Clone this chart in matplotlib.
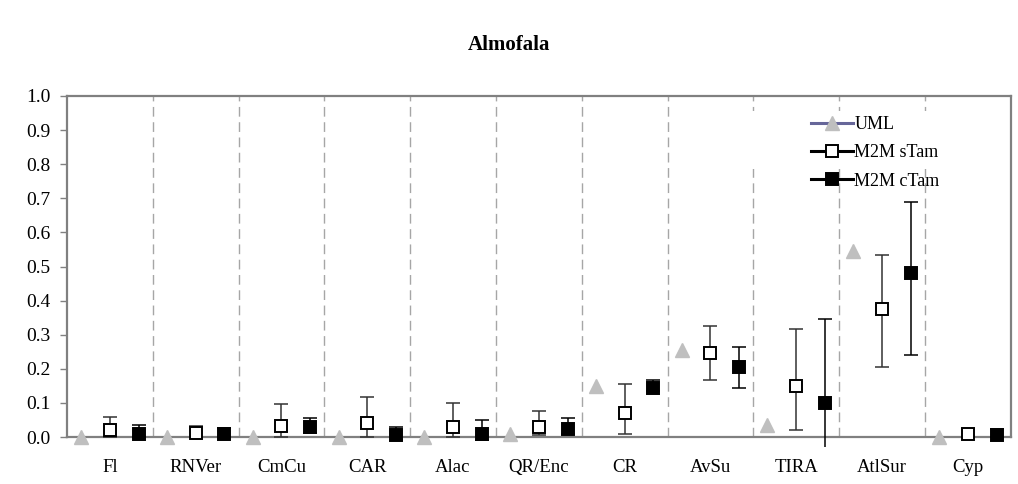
import matplotlib
matplotlib.use("Agg")
import matplotlib.pyplot as plt
import numpy as np
from matplotlib.patches import Rectangle
from matplotlib.transforms import Bbox, TransformedBbox

categories = ["Fl", "RNVer", "CmCu", "CAR", "Alac", "QR/Enc", "CR", "AvSu", "TIRA", "AtlSur", "Cyp"]

uml = [0.0, 0.0, 0.0, 0.0, 0.0, 0.01, 0.15, 0.255, 0.035, 0.545, 0.0]

stam = [0.02, 0.013, 0.033, 0.04, 0.03, 0.03, 0.07, 0.245, 0.15, 0.375, 0.01]
stam_hi = [0.058, 0.033, 0.098, 0.117, 0.10, 0.077, 0.155, 0.325, 0.318, 0.535, 0.025]
stam_lo = [0.0, 0.0, 0.0, 0.0, 0.0, 0.005, 0.01, 0.168, 0.02, 0.205, 0.0]

ctam = [0.01, 0.01, 0.03, 0.005, 0.01, 0.025, 0.143, 0.205, 0.10, 0.48, 0.005]
ctam_hi = [0.035, 0.028, 0.055, 0.03, 0.05, 0.055, 0.168, 0.265, 0.345, 0.69, 0.025]
ctam_lo = [0.0, 0.0, 0.012, -0.01, -0.01, 0.01, 0.135, 0.145, -0.145, 0.24, 0.0]

yticks = [0.0, 0.1, 0.2, 0.3, 0.4, 0.5, 0.6, 0.7, 0.8, 0.9, 1.0]

plt.rcParams['font.family'] = ['Liberation Serif', 'DejaVu Serif']

fig = plt.figure(figsize=(10.18, 4.84), dpi=100)
ax = fig.add_axes([0.0658, 0.097, 0.927, 0.7047])

x = np.arange(len(categories))
off = 0.335

# dividers
for b in np.arange(0.5, len(categories) - 0.5, 1.0):
    ax.axvline(b, color="#a6a6a6", lw=1.0, dashes=(7, 4), zorder=1)

# white area behind legend
ax.add_patch(Rectangle((0.715, 0.785), 0.28, 0.17, transform=ax.transAxes,
                       facecolor="white", edgecolor="none", zorder=2))

clipbb = TransformedBbox(Bbox([[0, -0.03], [1, 1]]), ax.transAxes)

def draw(xs, vals, lo, hi, color, face, label):
    v = np.array(vals)
    yerr = [v - np.array(lo), np.array(hi) - v]
    cont = ax.errorbar(xs, v, yerr=yerr, fmt="none", ecolor=color, elinewidth=1.1,
                       capsize=5, capthick=1.1, zorder=3)
    for art in cont.lines[1] + cont.lines[2]:
        art.set_clip_box(clipbb)
    ax.plot(xs, v, ls="none", marker="s", ms=8.5, mfc=face, mec="black", mew=1.4,
            zorder=4, clip_on=False)

ax.plot(x - off, uml, ls="none", marker="^", ms=10, color="#bfbfbf", mec="#bfbfbf",
        zorder=4, clip_on=False)
draw(x, stam, stam_lo, stam_hi, "#333333", "white", "M2M sTam")
draw(x + off, ctam, ctam_lo, ctam_hi, "black", "black", "M2M cTam")

# legend handles
h1, = ax.plot([], [], color="#666699", lw=2.2, marker="^", ms=10, mfc="#bfbfbf", mec="#bfbfbf")
h2, = ax.plot([], [], color="black", lw=2.2, marker="s", ms=8, mfc="white", mec="black", mew=1.4)
h3, = ax.plot([], [], color="black", lw=2.2, marker="s", ms=8, mfc="black", mec="black", mew=1.4)
leg = ax.legend([h1, h2, h3], ["UML", "M2M sTam", "M2M cTam"], loc="upper left",
                bbox_to_anchor=(0.775, 0.978), frameon=False, fontsize=13,
                handlelength=2.3, handletextpad=0.1, labelspacing=0.62, borderpad=0.2)
leg.set_zorder(5)

ax.set_xlim(-0.5, len(categories) - 0.5)
ax.set_ylim(0, 1.0)
ax.set_yticks(yticks)
ax.set_yticklabels([f"{t:.1f}" for t in yticks], fontsize=14)
ax.set_xticks(x)
ax.set_xticklabels(categories, fontsize=13.5)
ax.tick_params(axis="x", length=0, pad=16)
ax.tick_params(axis="y", length=5, width=1, color="#808080", pad=7)
for s in ax.spines.values():
    s.set_color("#808080")
    s.set_linewidth(1.6)

fig.text(0.5, 1 - 45 / 484, "Almofala", fontsize=15, fontweight="bold",
         ha="center", va="center")

fig.savefig("out.png", dpi=100)
